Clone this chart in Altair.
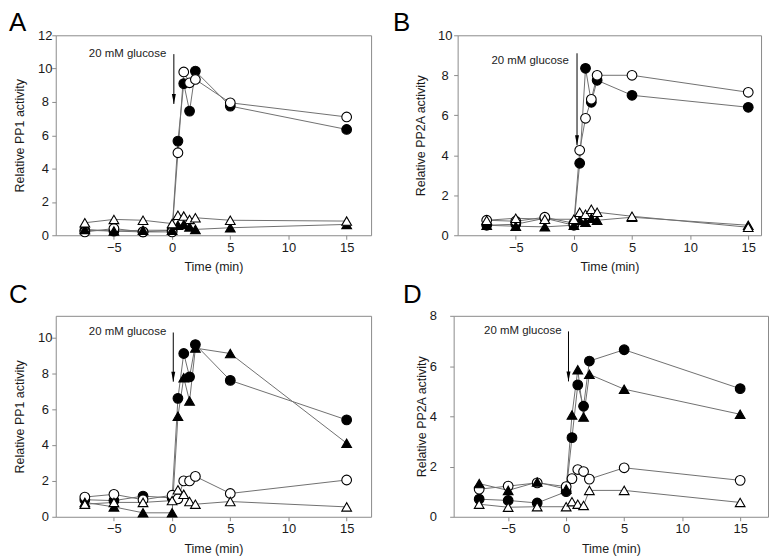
import altair as alt
import pandas as pd

# ---------------- data ----------------
times = [-7.5, -5, -2.5, 0, 0.5, 1, 1.5, 2, 5, 15]
series_names = ["filled circle", "open circle", "filled triangle", "open triangle"]

# Panel A (PP1)
a_filled_circle = [0.3, 0.25, 0.2, 0.3, 5.65, 9.1, 7.45, 9.85, 7.75, 6.35]
a_open_circle = [0.2, 0.4, 0.2, 0.2, 4.95, 9.8, 9.15, 9.35, 7.95, 7.1]
a_filled_triangle = [0.35, 0.25, 0.3, 0.3, 0.6, 0.65, 0.5, 0.35, 0.45, 0.65]
a_open_triangle = [0.75, 0.95, 0.9, 0.7, 1.2, 1.15, 0.95, 1.05, 0.9, 0.85]

# Panel B (PP2A)
b_filled_circle = [0.5, 0.55, 0.85, 0.5, 3.6, 8.35, 6.65, 7.75, 7.0, 6.4]
b_open_circle = [0.75, 0.7, 0.9, 0.6, 4.25, 5.85, 6.8, 8.0, 8.0, 7.15]
b_filled_triangle = [0.5, 0.45, 0.42, 0.5, 0.75, 0.65, 0.85, 0.75, 0.9, 0.5]
b_open_triangle = [0.75, 0.85, 0.8, 0.8, 1.15, 1.05, 1.3, 1.15, 0.95, 0.4]

# Panel C (PP1)
c_filled_circle = [0.95, 0.9, 1.15, 1.05, 6.6, 9.1, 7.8, 9.6, 7.6, 5.4]
c_open_circle = [1.1, 1.25, 0.95, 1.2, 1.0, 2.0, 2.0, 2.25, 1.3, 2.05]
c_filled_triangle = [0.8, 0.55, 0.22, 0.22, 5.6, 7.75, 6.45, 9.4, 9.1, 4.1]
c_open_triangle = [0.7, 0.8, 0.8, 0.9, 1.5, 1.25, 0.85, 0.7, 0.85, 0.55]

# Panel D (PP2A)
d_filled_circle = [0.7, 0.65, 0.55, 1.0, 3.15, 5.25, 4.4, 6.2, 6.65, 5.1]
d_open_circle = [1.1, 1.22, 1.35, 1.2, 1.52, 1.88, 1.8, 1.5, 1.95, 1.45]
d_filled_triangle = [1.32, 1.05, 1.38, 1.1, 4.05, 5.85, 3.97, 5.67, 5.08, 4.08]
d_open_triangle = [0.5, 0.38, 0.4, 0.4, 0.6, 0.5, 0.45, 1.05, 1.05, 0.57]

x_ticks = [-5, 0, 5, 10, 15]
annotation = "20 mM glucose"

FONT = "Liberation Sans"


def long_frame(fc, oc, ft, ot):
    rows = []
    for name, vals in zip(series_names, [fc, oc, ft, ot]):
        for t, v in zip(times, vals):
            rows.append({"series": name, "time": t, "value": v})
    return pd.DataFrame(rows)


def panel(letter, vals, ytitle, ydomain, yticks, xdomain, width, height,
          label_pad, title_pad, letter_pos, text_pos, arrow):
    df = long_frame(*vals)
    x = alt.X("time:Q", scale=alt.Scale(domain=xdomain, nice=False, zero=False),
              axis=alt.Axis(values=x_ticks, title="Time (min)", labelPadding=2,
                            titlePadding=6.5, format="d", labelOverlap=False,
                            labelFlush=False))
    yaxis = alt.Axis(values=yticks, tickCount=len(yticks), title=ytitle,
                     labelAlign="center", labelBaseline="middle",
                     labelPadding=label_pad, titlePadding=title_pad,
                     format="d", labelOverlap=False, labelFlush=False)
    yscale = alt.Scale(domain=ydomain, nice=False, zero=False)
    y = alt.Y("value:Q", scale=yscale, axis=yaxis)
    base = alt.Chart(df)
    lines = base.mark_line(color="#707070", strokeWidth=1).encode(
        x=x, y=y, detail="series:N", order="time:Q")
    points = base.mark_point(filled=True, stroke="black", strokeWidth=1.1,
                             opacity=1, fillOpacity=1, size=95).encode(
        x=x, y=y,
        shape=alt.Shape("series:N", scale=alt.Scale(
            domain=series_names,
            range=["circle", "circle", "triangle-up", "triangle-up"]), legend=None),
        fill=alt.Fill("series:N", scale=alt.Scale(
            domain=series_names, range=["black", "white", "black", "white"]), legend=None),
    )
    ax, atop, atip = arrow
    arrow_df = pd.DataFrame({"time": [ax], "value": [atop], "tip": [atip]})
    rule = alt.Chart(arrow_df).mark_rule(color="black", strokeWidth=1).encode(
        x=x, y=y, y2="tip:Q")
    head = alt.Chart(arrow_df).mark_point(shape="M-1,-5L0,0L1,-5Z", size=16, filled=True,
                                          color="black", opacity=1).encode(
        x=x, y=alt.Y("tip:Q", scale=yscale, axis=yaxis))
    tx, ty = text_pos
    text_df = pd.DataFrame({"time": [tx], "value": [ty], "label": [annotation]})
    label = alt.Chart(text_df).mark_text(align="right", baseline="middle",
                                         fontSize=11.5, font=FONT, color="#222").encode(
        x=x, y=y, text="label:N")
    lx, ly = letter_pos
    letter_df = pd.DataFrame({"letter": [letter]})
    letter_mark = alt.Chart(letter_df).mark_text(align="left", baseline="alphabetic",
                                                 fontSize=26, font=FONT, color="black").encode(
        x=alt.value(lx), y=alt.value(ly), text="letter:N")
    return alt.layer(lines, points, rule, head, label, letter_mark).properties(
        width=width, height=height)


pA = panel("A", [a_filled_circle, a_open_circle, a_filled_triangle, a_open_triangle],
           "Relative PP1 activity", [0, 12], [0, 2, 4, 6, 8, 10, 12], [-10, 17.1],
           317, 201, 7, 11, (-47, -4), (-0.5, 10.9), (0.15, 10.87, 7.88))
pB = panel("B", [b_filled_circle, b_open_circle, b_filled_triangle, b_open_triangle],
           "Relative PP2A activity", [0, 10], [0, 2, 4, 6, 8, 10], [-10, 16.1],
           305, 201, 9, 10, (-65, -4), (-0.43, 8.7), (0.27, 9.1, 4.5))
pC = panel("C", [c_filled_circle, c_open_circle, c_filled_triangle, c_open_triangle],
           "Relative PP1 activity", [0, 11.2], [0, 2, 4, 6, 8, 10], [-10, 17.1],
           317, 202, 7, 11, (-47, -13), (-0.5, 10.27), (0.1, 10.27, 7.53))
pD = panel("D", [d_filled_circle, d_open_circle, d_filled_triangle, d_open_triangle],
           "Relative PP2A activity", [0, 8], [0, 2, 4, 6, 8], [-9.7, 17.4],
           316, 202, 17, 1, (-51, -13), (-0.4, 7.38), (0.2, 7.38, 5.39))

chart = alt.vconcat(
    alt.hconcat(pA, pB, spacing=20),
    alt.hconcat(pC, pD, spacing=30),
    spacing=7,
).properties(
    padding=0, background="white"
).configure_view(
    stroke="#8a8a8a", strokeWidth=1
).configure_axis(
    domain=False, grid=False, tickColor="#8a8a8a", tickSize=4, tickWidth=1,
    labelOverlap=False,
    labelFont=FONT, labelFontSize=13, labelColor="#1a1a1a",
    titleFont=FONT, titleFontSize=12.5, titleFontWeight="normal", titleColor="#1a1a1a",
)

chart.save("out.html", embed_options={"renderer": "svg", "actions": False})
